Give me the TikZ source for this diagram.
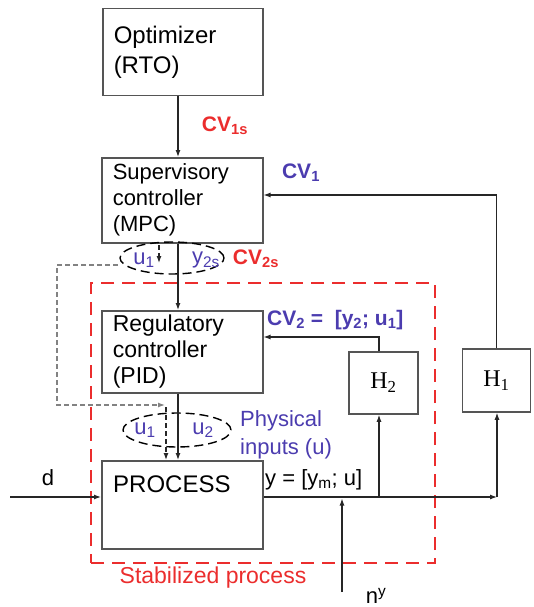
\documentclass[tikz,border=0pt]{standalone}
\usepackage{fontspec}
\setmainfont{Liberation Sans}
\newfontfamily\hserif{Liberation Serif}
\usetikzlibrary{arrows.meta,shapes.geometric}
\definecolor{myred}{RGB}{235,45,45}
\definecolor{myblue}{RGB}{75,60,175}
\definecolor{boxgray}{RGB}{85,85,85}
\definecolor{dgray}{RGB}{130,130,130}
\begin{document}
\begin{tikzpicture}[x=1pt,y=-1pt,
  box/.style={draw=boxgray,line width=1.5pt,inner xsep=11pt,inner ysep=0pt,text width=139pt,align=left,anchor=north west},
  hbox/.style={draw=boxgray,line width=1.5pt,inner sep=0pt,font=\hserif\fontsize{24}{28}\selectfont},
  ell/.style={ellipse,draw=black,line width=1.4pt,dash pattern=on 9pt off 5pt,inner sep=0pt},
  arr/.style={-{Latex[length=7pt,width=5pt]},line width=1.2pt,draw=black!85},
  darr/.style={-{Latex[length=7pt,width=5pt]},line width=1.2pt,draw=black!85,dash pattern=on 5pt off 3pt},
  garr/.style={-{Latex[length=7pt,width=5pt]},line width=1.2pt,draw=dgray,dash pattern=on 5pt off 3pt},
  lab/.style={inner sep=0pt,font=\fontsize{22}{26}\selectfont},
  redlab/.style={lab,text=myred,font=\bfseries\fontsize{21}{26}\selectfont},
  bluelab/.style={lab,text=myblue,font=\bfseries\fontsize{21}{26}\selectfont},
  bluetxt/.style={lab,text=myblue}]
\useasboundingbox (0,0) rectangle (533,607);

% stabilized process frame
\node[draw=myred,line width=2pt,dash pattern=on 13pt off 8pt,inner sep=0pt,minimum width=344pt,minimum height=280pt,anchor=north west] (stab) at (90,282) {};

% main boxes
\node[box,minimum height=87pt,text width=138pt,font=\fontsize{24}{30}\selectfont] (opt) at (102,8) {Optimizer\\(RTO)};
\node[box,minimum height=85pt,font=\fontsize{22}{26}\selectfont] (sup) at (101,157) {Supervisory\\controller\\(MPC)};
\node[box,minimum height=82pt,font=\fontsize{23}{26}\selectfont] (pid) at (101,310) {Regulatory\\controller\\(PID)};
\node[box,minimum height=88pt] (proc) at (101,460) {};
\node[anchor=west,inner sep=0pt,font=\fontsize{24}{28}\selectfont] (proctxt) at (113,484) {PROCESS};

\node[hbox,minimum width=69pt,minimum height=62pt] (h2) at (383.5,383) {H\textsubscript{2}};
\node[hbox,minimum width=68pt,minimum height=63pt] (h1) at (496.5,380.5) {H\textsubscript{1}};

% ellipses
\node[ell,minimum width=104pt,minimum height=32pt] (e1) at (172,258) {};
\node[ell,minimum width=108pt,minimum height=34pt] (e2) at (177,430) {};

% coordinates
\coordinate (xa) at (178,0);
\coordinate (xh2) at (379,0);
\coordinate (c1) at (0,195);
\coordinate (c2) at (0,337);
\coordinate (oy) at (0,497);
\coordinate (oend) at (497,497);
\coordinate (din) at (10,497);
\coordinate (nyin) at (342,592);
\coordinate (u1top) at (159,245);
\coordinate (u1bot) at (159,263);
\coordinate (g1) at (118,265);
\coordinate (g2) at (57,265);
\coordinate (g3) at (57,405);
\coordinate (g4) at (165,405);
\coordinate (g5) at (166,407);

% vertical signal flow
\draw[arr] (opt.south -| xa) -- (sup.north -| xa);
\draw[arr] (sup.south -| xa) -- (pid.north -| xa);
\draw[arr] (pid.south -| xa) -- (proc.north -| xa);

% u1 dashed path
\draw[darr] (u1top) -- (u1bot);
\draw[garr] (g1) -- (g2) -- (g3) -- (g4);
\draw[darr] (g5) -- (proc.north -| g5);

% feedback
\draw[arr] (h1.north) |- (sup.east |- c1);
\draw[arr] (h2.north -| xh2) |- (pid.east |- c2);

% output
\draw[arr] (proc.east |- oy) -- (oend);
\draw[arr] (oend) -- (h1.south -| oend);
\draw[arr] (xh2 |- oy) -- (h2.south -| xh2);
\draw[arr] (din) -- (proc.west |- oy);
\draw[arr,shorten >=1.5pt] (nyin) -- (nyin |- oy);

% labels
\node[redlab] (lcv1s) at (225,126) {CV\textsubscript{1s}};
\node[bluelab] (lcv1) at (301,173) {CV\textsubscript{1}};
\node[redlab] (lcv2s) at (256,259) {CV\textsubscript{2s}};
\node[bluetxt] (lu1a) at (144,260) {u\textsubscript{1}};
\node[bluetxt] (ly2s) at (206,260) {y\textsubscript{2s}};
\node[bluelab,anchor=west] (lcv2) at (267,320) {CV\textsubscript{2} =~~[y\textsubscript{2}; u\textsubscript{1}]};
\node[bluetxt] (lu1b) at (145,430) {u\textsubscript{1}};
\node[bluetxt] (lu2) at (203,430) {u\textsubscript{2}};
\node[bluetxt,anchor=west,align=left,font=\fontsize{22}{28}\selectfont] (lphys) at (240,435) {Physical\\inputs (u)};
\node[lab,anchor=west] (ly) at (265,480) {y = [y\textsubscript{m}; u]};
\node[lab] (ld) at (48,478) {d};
\node[lab,text=myred,font=\fontsize{23}{27}\selectfont] (lstab) at (213,578) {Stabilized process};
\node[lab] (lny) at (376,596) {n\textsuperscript{y}};
\end{tikzpicture}
\end{document}
